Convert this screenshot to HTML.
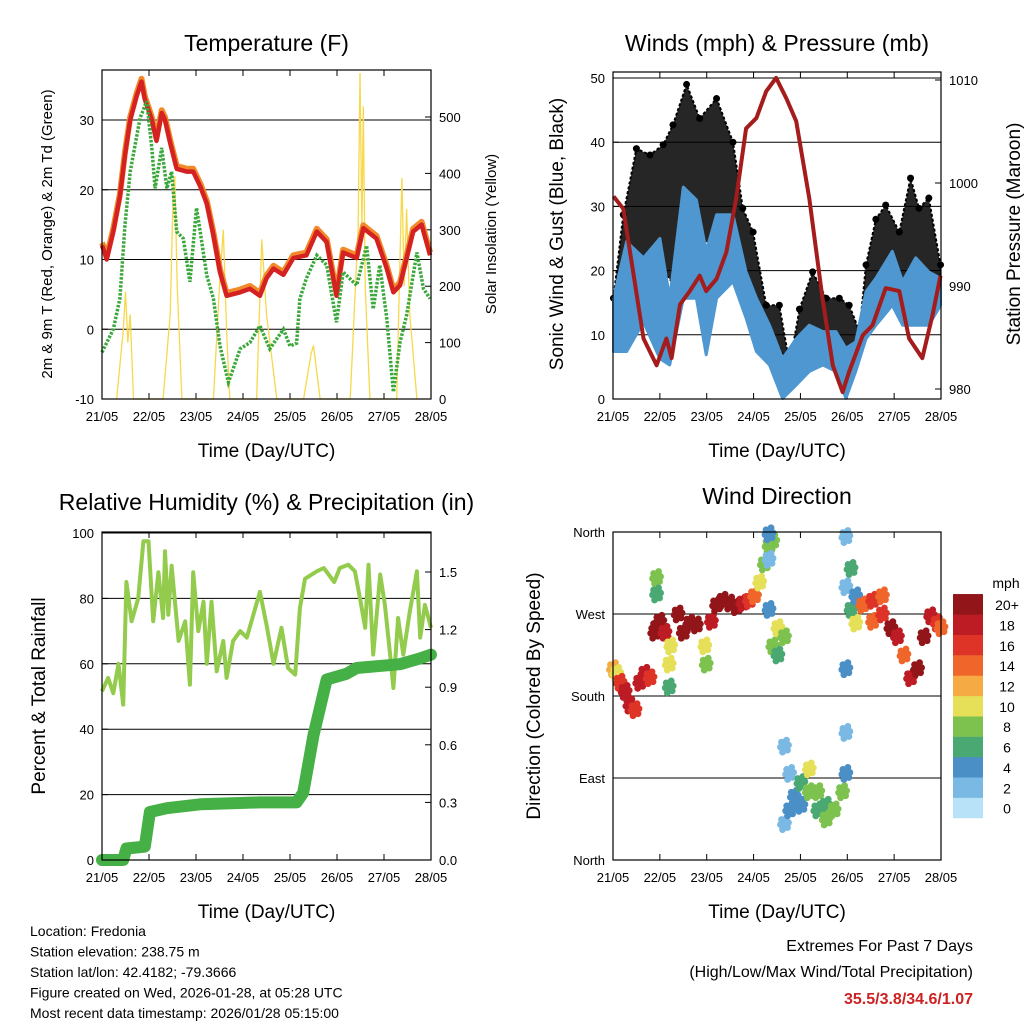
<!DOCTYPE html>
<html><head><meta charset="utf-8"><style>
body{margin:0;background:#fff;}
svg{display:block;font-family:"Liberation Sans",sans-serif;}
</style></head><body>
<svg id="c" width="1024" height="1024" viewBox="0 0 1024 1024"></svg>
<script>
// ---------- DATA ----------
const tempDays=[0,0.03,0.1,0.24,0.38,0.49,0.6,0.74,0.84,0.91,1.06,1.16,1.27,1.34,1.45,1.59,1.8,1.94,2.09,2.23,2.37,2.51,2.65,2.94,3.15,3.36,3.5,3.65,3.86,4.07,4.35,4.57,4.78,4.99,5.13,5.42,5.56,5.84,6.06,6.2,6.34,6.62,6.8,6.98];
const tempF=[12,11.5,10,14,19,25,30,33.5,35.5,33,30,27,31,30,26.7,23,22.6,22.6,20.5,18,13.5,8.2,4.8,5.3,5.8,4.8,7.3,8.7,7.8,10.2,10.6,14,12.5,4.8,11,10.2,14.5,13,8.7,5.3,6.3,14,15,10.6];
const dewDays=[0,0.24,0.38,0.49,0.6,0.81,0.95,1.06,1.13,1.27,1.38,1.48,1.59,1.73,1.87,2.01,2.09,2.23,2.37,2.51,2.69,2.94,3.15,3.36,3.57,3.86,4.0,4.14,4.21,4.35,4.57,4.78,4.99,5.13,5.42,5.63,5.77,5.91,6.06,6.2,6.34,6.48,6.7,6.84,6.98];
const dewF=[-3.3,0,4.4,15,22.6,30.3,32.7,26,20.2,26,20.2,22.6,14,13,6.8,17.4,14,7.7,4.4,-2.4,-7.6,-2.8,-1.9,0.5,-2.8,0,-2.4,-2,4.4,7.3,10.6,9.2,1,8.2,6.3,12,2.9,9.2,1.5,-9,-1.9,2,11,5.8,4.4];
const solarDays=[0.31,0.45,0.5,0.55,0.6,0.67,1.3,1.45,1.52,1.55,1.6,1.7,2.37,2.5,2.58,2.65,2.72,3.29,3.4,3.5,3.72,4.29,4.45,4.5,4.64,5.28,5.45,5.49,5.53,5.56,5.6,5.7,6.27,6.38,6.43,6.48,6.55,6.7];
const solarW=[0,120,190,100,150,0,0,150,380,395,200,0,0,200,300,120,0,0,283,150,0,0,80,95,0,0,300,578,300,519,200,0,0,392,200,337,150,0];
const gustDays=[0.01,0.22,0.5,0.79,1.07,1.28,1.57,1.85,2.21,2.56,2.77,2.99,3.27,3.55,3.77,3.98,4.26,4.55,4.83,5.04,5.26,5.4,5.61,5.82,6.11,6.35,6.53,6.74,6.99];
const gustHigh=[15.7,28.7,39,38,39.6,42.7,49,43.7,46.8,40,29.7,26,14.6,14.6,5.3,14,19.8,15.7,15.7,14.6,10.5,20.9,28,30.2,26,34.4,29.7,31.3,20.9];
const gustLow=[15,17,18,16,20,18,25,24,25,24,20,15,12,8,4.5,8,10,9,9,7,8,14,18,20,18,20,20,18,17];
const windDays=[0.01,0.29,0.65,1.0,1.21,1.5,1.78,1.99,2.21,2.56,2.84,3.06,3.34,3.62,3.91,4.19,4.48,4.76,4.97,5.18,5.4,5.61,5.96,6.18,6.46,6.74,6.99];
const windHigh=[15.7,24.5,22,25,15.7,33,31,23,28.7,28.7,19.8,15.7,11.5,6.3,9.4,11.5,10.5,10.5,7.9,8.9,16.7,18.8,23,18.3,22,19.8,18.8];
const windLow=[7.4,7.4,12,6.3,5.3,15.7,15.7,6.9,15.7,18.3,12.6,7.4,5.3,0.1,2.2,4.3,5.3,4.3,0.1,4.3,9.4,11.5,14.6,11.5,11.5,11.5,14.6];
const presDays=[0.01,0.22,0.43,0.65,0.93,1.14,1.25,1.43,1.64,1.85,1.99,2.21,2.42,2.63,2.84,3.06,3.27,3.48,3.7,3.91,4.19,4.47,4.69,4.9,5.04,5.33,5.54,5.82,6.11,6.32,6.6,6.82,6.99];
const presMb=[998.7,997.5,991.4,984.9,982.3,984.9,983,988.2,989.5,991,989.5,990.7,993.3,998.5,1005.3,1006.3,1008.9,1010.2,1008.2,1006,998.5,988.8,982.3,979.7,981.7,985.2,986.2,989.8,989.5,984.9,983,987.2,991];
const rhDays=[0,0.13,0.24,0.35,0.45,0.52,0.63,0.77,0.88,0.99,1.09,1.2,1.3,1.34,1.41,1.48,1.63,1.77,1.87,1.94,2.05,2.16,2.23,2.33,2.44,2.58,2.65,2.79,2.94,3.08,3.36,3.5,3.65,3.82,3.96,4.11,4.21,4.32,4.57,4.72,4.94,5.06,5.24,5.38,5.49,5.6,5.67,5.77,5.92,6.02,6.13,6.2,6.3,6.41,6.55,6.7,6.77,6.87,7.0];
const rhPct=[51.6,55.7,51,60,47.5,85,73,80,97.5,97.5,73,88,74,94.4,75,90,67,73,53.6,88,70,79,60,79,57.7,67,55.7,67,70,68,82,72,60,71,58.7,56.7,77,86,88.3,89.3,85,89.3,90.3,88.3,80,71,90.3,62.8,87.3,78,62.8,52.6,74,62.8,76,88.3,68,78,71];
const rainDays=[0,0.45,0.52,0.91,1.02,1.38,2.09,3.36,4.14,4.28,4.5,4.78,5.2,5.42,6.34,6.77,7.0];
const rainIn=[0,0,0.06,0.07,0.25,0.27,0.29,0.3,0.3,0.35,0.65,0.94,0.97,1.0,1.02,1.05,1.07];
const dirDays=[0.01,0.08,0.15,0.26,0.36,0.47,0.57,0.68,0.79,0.89,0.93,0.93,0.93,1.0,1.11,1.2,1.2,1.23,1.39,1.5,1.64,1.78,1.96,1.99,2.1,2.21,2.35,2.49,2.63,2.77,2.91,3.02,3.13,3.23,3.33,3.41,3.33,3.33,3.33,3.41,3.52,3.66,3.52,3.66,3.66,3.77,3.87,3.77,4.01,4.01,4.19,4.19,4.37,4.37,4.55,4.55,4.72,4.9,4.97,4.97,4.97,4.97,4.97,5.08,5.08,5.18,5.18,5.33,5.54,5.54,5.75,5.75,5.93,6.07,6.21,6.35,6.5,6.64,6.78,6.92,7.0];
const dirDeg=[210,205,195,185,170,165,195,205,200,250,255,310,292,262,250,215,190,235,270,250,260,258,235,215,262,280,285,282,278,282,285,290,305,325,345,350,358,330,275,235,255,245,225,125,40,95,70,55,85,60,75,100,55,75,60,45,55,75,140,210,300,355,95,320,275,260,290,280,285,262,270,290,255,245,225,200,210,245,268,260,255];
const dirSpd=[12,10,16,18,18,16,18,18,16,20,20,8,6,20,18,10,6,10,20,20,20,20,10,8,18,20,20,20,20,18,16,14,10,8,8,8,4,2,4,8,10,8,6,2,2,2,4,4,6,4,8,10,6,8,6,8,8,8,2,4,2,2,4,6,6,10,4,14,16,14,16,14,20,18,14,18,20,20,18,16,14];
const spdColors=["#b8e2f7","#7ab9e4","#4a8fc6","#4aa872","#7dc24e","#e6df58","#f6aa44","#f06529","#de3427","#bd1c24","#921619"];
const spdLabels=["0","2","4","6","8","10","12","14","16","18","20+"];

// ---------- HELPERS ----------
const S=document.getElementById('c');
const NS="http://www.w3.org/2000/svg";
function mk(tag,attrs,parent){const e=document.createElementNS(NS,tag);for(const k in attrs)e.setAttribute(k,attrs[k]);(parent||S).appendChild(e);return e;}
function txt(x,y,s,size,anchor,extra){const e=mk('text',Object.assign({x:x,y:y,'font-size':size,'text-anchor':anchor||'middle',fill:'#000'},extra||{}));e.textContent=s;return e;}
function lin(a0,a1,b0,b1){return v=>b0+(v-a0)*(b1-b0)/(a1-a0);}
const dayLabels=["21/05","22/05","23/05","24/05","25/05","26/05","27/05","28/05"];
function path(xs,ys,fx,fy){return xs.map((d,i)=>(i?'L':'M')+fx(d).toFixed(1)+','+fy(ys[i]).toFixed(1)).join('');}
function band(xs,hi,lo,fx,fy){let p=path(xs,hi,fx,fy);for(let i=xs.length-1;i>=0;i--)p+='L'+fx(xs[i]).toFixed(1)+','+fy(lo[i]).toFixed(1);return p+'Z';}

function frame(P,name,title,xtitle,tt){
  const g=mk('g',{});
  
  
  const t=txt((P.x0+P.x1)/2,tt,title,23);
  
  
  const xt=txt((P.x0+P.x1)/2,P.y1+58,xtitle,19);
  
  
  const fx=lin(0,7,P.x0,P.x1);
  dayLabels.forEach((l,i)=>{
    const x=fx(i);
    const tk=mk('line',{x1:x,x2:x,y1:P.y1,y2:P.y1-6,stroke:'#000','stroke-width':1});
    
    
    const tk2=mk('line',{x1:x,x2:x,y1:P.y0,y2:P.y0+6,stroke:'#000','stroke-width':1});
    
    
    const tl=txt(x,P.y1+22,l,13);
    
    
  });
  return fx;
}
function box(P,name){
  const r=mk('rect',{x:P.x0,y:P.y0,width:P.x1-P.x0,height:P.y1-P.y0,fill:'none',stroke:'#000','stroke-width':1.2});
  
  
}
function yaxis(P,vals,labels,fy,side,grid){
  vals.forEach((v,i)=>{
    const y=fy(v);
    if(grid){const gl=mk('line',{x1:P.x0,x2:P.x1,y1:y,y2:y,stroke:'#000','stroke-width':1});
      
      }
    const x=side==='l'?P.x0:P.x1;
    const tk=mk('line',{x1:x,x2:side==='l'?x+6:x-6,y1:y,y2:y,stroke:'#000'});
    
    
    const tl=txt(side==='l'?x-8:x+8,y+5,labels[i],13,side==='l'?'end':'start');
    
    
  });
}
function vtitle(x,y,s,size,name){
  const e=txt(x,y,s,size,'middle',{transform:`rotate(-90 ${x} ${y})`});
  
  
}

// ---------- PANEL 1: TEMPERATURE ----------
{
const P={x0:102,x1:431,y0:70,y1:399};
const fx=frame(P,'temperature','Temperature (F)','Time (Day/UTC)',51);
const fy=lin(-10,30,399,120), fs=lin(0,500,399,117);
yaxis(P,[-10,0,10,20,30],["-10","0","10","20","30"],fy,'l',true);
yaxis(P,[0,100,200,300,400,500],["0","100","200","300","400","500"],fs,'r',false);
const sol=mk('path',{d:path(solarDays,solarW,fx,fs),fill:'none',stroke:'#f7d84a','stroke-width':1.3});


const o=mk('path',{d:path(tempDays,tempF.map(v=>v+0.4),fx,fy),fill:'none',stroke:'#f28a2a','stroke-width':6,'stroke-linejoin':'round'});


const r=mk('path',{d:path(tempDays,tempF,fx,fy),fill:'none',stroke:'#d42121','stroke-width':4.5,'stroke-linejoin':'round'});


const g=mk('path',{d:path(dewDays,dewF,fx,fy),fill:'none',stroke:'#3aa83a','stroke-width':3.5,'stroke-dasharray':'2.5 1.5'});


box(P,'temperature');
vtitle(52,234,'2m & 9m T (Red, Orange) & 2m Td (Green)',15,'temperature-y-axis-title');
vtitle(496,234,'Solar Insolation (Yellow)',15,'solar-y-axis-title');
}

// ---------- PANEL 2: WINDS ----------
{
const P={x0:613,x1:941,y0:72,y1:399};
const fx=frame(P,'winds','Winds (mph) & Pressure (mb)','Time (Day/UTC)',51);
const fy=lin(0,50,399,78), fp=lin(980,1010,389,80);
yaxis(P,[0,10,20,30,40,50],["0","10","20","30","40","50"],fy,'l',true);
yaxis(P,[980,990,1000,1010],["980","990","1000","1010"],fp,'r',false);
const gb=mk('path',{d:band(gustDays,gustHigh,gustLow,fx,fy),fill:'#000','fill-opacity':0.85,stroke:'#000','stroke-width':2,'stroke-dasharray':'3 2','stroke-linejoin':'round'});


gustDays.forEach((d,i)=>{
  const c=mk('circle',{cx:fx(d),cy:fy(gustHigh[i]),r:3.5,fill:'#000'});
  
  
});
const bb=mk('path',{d:band(windDays,windHigh,windLow,fx,fy),fill:'#4e97d1',stroke:'#4e97d1','stroke-width':3,'stroke-linejoin':'round'});


const pl=mk('path',{d:path(presDays,presMb,fx,fp),fill:'none',stroke:'#a51c1c','stroke-width':4,'stroke-linejoin':'round'});


box(P,'winds');
vtitle(563,234,'Sonic Wind & Gust (Blue, Black)',19,'winds-y-axis-title');
vtitle(1020,234,'Station Pressure (Maroon)',19,'pressure-y-axis-title');
}

// ---------- PANEL 3: RH & PRECIP ----------
{
const P={x0:102,x1:431,y0:532,y1:860};
const fx=frame(P,'humidity','Relative Humidity (%) & Precipitation (in)','Time (Day/UTC)',510);
const fy=lin(0,100,860,533), fr=lin(0,1.5,860,572);
yaxis(P,[0,20,40,60,80,100],["0","20","40","60","80","100"],fy,'l',true);
yaxis(P,[0,0.3,0.6,0.9,1.2,1.5],["0.0","0.3","0.6","0.9","1.2","1.5"],fr,'r',false);
const rh=mk('path',{d:path(rhDays,rhPct,fx,fy),fill:'none',stroke:'#93cb4d','stroke-width':4,'stroke-linejoin':'round'});


const rn=mk('path',{d:path(rainDays,rainIn,fx,fr),fill:'none',stroke:'#45b045','stroke-width':12,'stroke-linejoin':'round','stroke-linecap':'round'});


box(P,'humidity');
vtitle(45,696,'Percent & Total Rainfall',19,'humidity-y-axis-title');
}

// ---------- PANEL 4: WIND DIRECTION ----------
{
const P={x0:613,x1:941,y0:532,y1:860};
const fx=frame(P,'direction','Wind Direction','Time (Day/UTC)',504);
const fy=lin(0,360,860,532);
yaxis(P,[0,90,180,270,360],["North","East","South","West","North"],fy,'l',true);
const offs=[[0,0],[-3,-4],[3,4],[-2,6],[2,-6],[4,-1],[-4,1]];
dirDays.forEach((d,i)=>{
  const b=Math.min(10,Math.floor(dirSpd[i]/2));
  offs.forEach(o=>{
    const c=mk('circle',{cx:fx(d)+o[0],cy:fy(dirDeg[i])+o[1],r:3.4,fill:spdColors[b]});
    
    
  });
});
box(P,'direction');
vtitle(540,696,'Direction (Colored By Speed)',19,'direction-y-axis-title');
const cb=mk('g',{});


spdColors.forEach((c,i)=>{
  const y=818-(i+1)*20.36;
  const r=mk('rect',{x:953,y:y,width:30,height:20.6,fill:c},cb);
  
  
  const t=txt(1007,y+16,spdLabels[i],14);
  
  
});
const mph=txt(1006,588,'mph',14);


}

// ---------- TEXT BLOCKS ----------
["Location: Fredonia","Station elevation: 238.75 m","Station lat/lon: 42.4182; -79.3666","Figure created on Wed, 2026-01-28, at 05:28 UTC","Most recent data timestamp: 2026/01/28 05:15:00"].forEach((s,i)=>{
  const t=txt(30,936+i*20.5,s,14,'start');
  
  
});
const e1=txt(973,951,'Extremes For Past 7 Days',16,'end');


const e2=txt(973,977,'(High/Low/Max Wind/Total Precipitation)',16,'end');


const e3=txt(973,1004,'35.5/3.8/34.6/1.07',16,'end',{fill:'#cc2222','font-weight':'bold'});


</script>
</body></html>
